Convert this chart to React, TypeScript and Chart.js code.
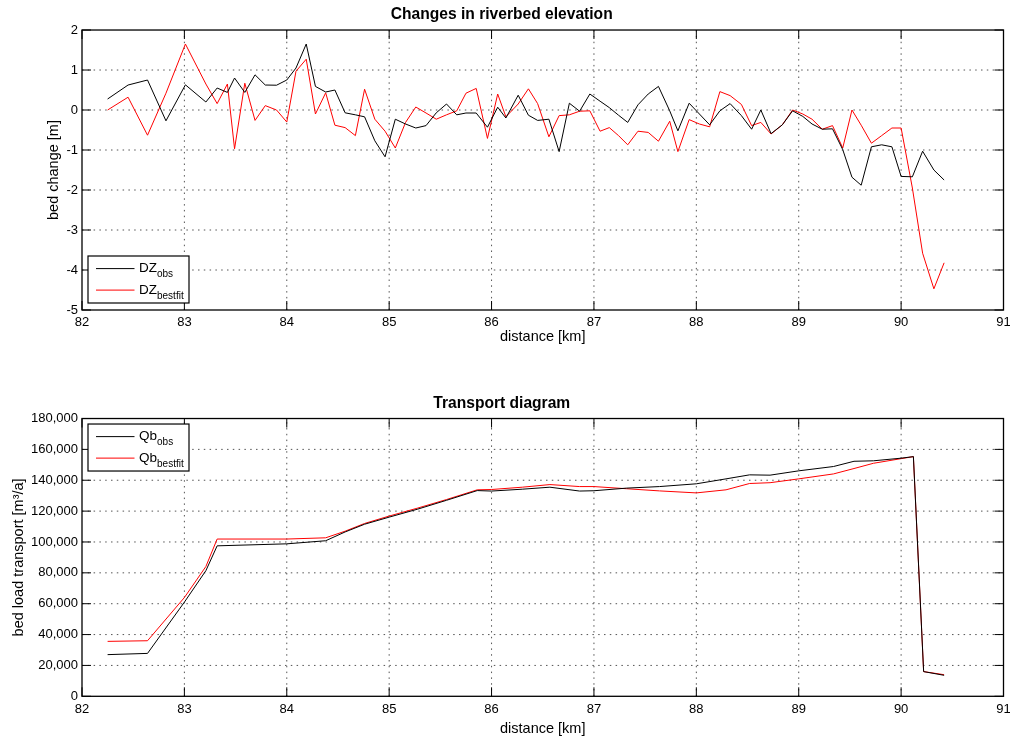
import React, { useEffect, useRef } from 'react';
import { Chart, registerables } from 'chart.js';

Chart.register(...registerables);

const FONT = '"Liberation Sans", Arial, Helvetica, sans-serif';

// ---------- Top plot: changes in riverbed elevation ----------
const distanceKm = [
  82.25, 82.45, 82.64, 82.82, 83.01, 83.21, 83.32, 83.42, 83.49, 83.59,
  83.69, 83.79, 83.9, 84.0, 84.09, 84.19, 84.28, 84.38, 84.47, 84.57,
  84.67, 84.76, 84.86, 84.96, 85.06, 85.16, 85.26, 85.36, 85.46, 85.56,
  85.66, 85.75, 85.85, 85.96, 86.06, 86.14, 86.26, 86.36, 86.45, 86.56,
  86.66, 86.76, 86.86, 86.96, 87.06, 87.15, 87.24, 87.33, 87.43, 87.53,
  87.63, 87.74, 87.82, 87.93, 88.03, 88.13, 88.23, 88.33, 88.44, 88.54,
  88.63, 88.73, 88.84, 88.94, 89.04, 89.13, 89.23, 89.33, 89.43, 89.52,
  89.61, 89.71, 89.81, 89.91, 90.0, 90.11, 90.21, 90.32, 90.42,
];

const dzObs = [
  0.275, 0.625, 0.75, -0.27, 0.63, 0.2, 0.55, 0.44, 0.8, 0.44,
  0.88, 0.625, 0.62, 0.75, 1.05, 1.65, 0.59, 0.45, 0.5, -0.07,
  -0.12, -0.17, -0.77, -1.17, -0.23, -0.35, -0.45, -0.39, -0.07, 0.15,
  -0.12, -0.075, -0.075, -0.43, 0.07, -0.2, 0.37, -0.13, -0.26, -0.23,
  -1.04, 0.17, -0.03, 0.4, 0.22, 0.06, -0.13, -0.31, 0.13, 0.4,
  0.59, -0.02, -0.52, 0.17, -0.1, -0.37, -0.02, 0.16, -0.14, -0.48,
  0.0, -0.59, -0.37, -0.02, -0.16, -0.35, -0.48, -0.47, -0.99, -1.68,
  -1.88, -0.92, -0.87, -0.92, -1.66, -1.67, -1.03, -1.5, -1.75,
];

const dzBestfit = [
  0.0, 0.32, -0.63, 0.42, 1.65, 0.65, 0.16, 0.65, -0.97, 0.67,
  -0.26, 0.11, 0.0, -0.3, 0.97, 1.27, -0.1, 0.43, -0.38, -0.44,
  -0.64, 0.52, -0.23, -0.53, -0.95, -0.31, 0.075, -0.075, -0.23, -0.12,
  -0.02, 0.42, 0.54, -0.71, 0.4, -0.17, 0.15, 0.53, 0.16, -0.67,
  -0.14, -0.12, -0.03, -0.02, -0.53, -0.44, -0.64, -0.87, -0.53, -0.56,
  -0.78, -0.28, -1.04, -0.24, -0.35, -0.42, 0.46, 0.36, 0.14, -0.39,
  -0.31, -0.6, -0.37, 0.0, -0.1, -0.23, -0.48, -0.39, -0.95, 0.0,
  -0.38, -0.83, -0.64, -0.45, -0.45, -1.95, -3.58, -4.47, -3.82,
];

// ---------- Bottom plot: transport diagram ----------
const distanceQb = [
  82.25, 82.64, 83.0, 83.21, 83.32, 84.0, 84.38, 84.57, 84.76, 85.0,
  85.28, 85.56, 85.86, 86.0, 86.3, 86.57, 86.86, 87.0, 87.32, 87.64,
  88.0, 88.29, 88.52, 88.72, 89.0, 89.34, 89.54, 89.73, 90.0, 90.12,
  90.22, 90.42,
];

const qbObs = [
  27000, 27800, 61000, 81400, 97500, 98800, 100800, 106500, 111500, 116100,
  121300, 127000, 133300, 133000, 134200, 135500, 133000, 133200, 134900, 135900,
  137700, 140900, 143500, 143300, 146100, 148900, 152300, 152600, 154300, 155300,
  16000, 13600,
];

const qbBestfit = [
  35600, 36000, 64000, 84100, 101900, 101900, 102700, 107000, 112000, 116800,
  122000, 127500, 133800, 134000, 135500, 137200, 135900, 135900, 134500, 133100,
  131800, 133800, 137900, 138400, 140900, 144100, 147600, 151000, 154000, 155300,
  16000, 14000,
];

const xTickRange = { min: 82, max: 91, step: 1 };
const dzTickRange = { min: -5, max: 2, step: 1 };
const qbTickRange = { min: 0, max: 180000, step: 20000 };

const toPoints = (xs: number[], ys: number[]) => xs.map((x, i) => ({ x, y: ys[i] }));

const matlabAxesPlugin = {
  id: 'matlabAxes',
  beforeDatasetsDraw(chart: any) {
    const { ctx, chartArea: a, scales } = chart;
    const xs = scales.x;
    const ys = scales.y;
    ctx.save();
    ctx.strokeStyle = '#555';
    ctx.lineWidth = 1;
    ctx.setLineDash([1.5, 4.3]);
    xs.ticks.forEach((t: any) => {
      const px = xs.getPixelForValue(t.value);
      if (px <= a.left + 1 || px >= a.right - 1) return;
      ctx.beginPath();
      ctx.moveTo(px, a.bottom);
      ctx.lineTo(px, a.top);
      ctx.stroke();
    });
    ys.ticks.forEach((t: any) => {
      const py = ys.getPixelForValue(t.value);
      if (py <= a.top + 1 || py >= a.bottom - 1) return;
      ctx.beginPath();
      ctx.moveTo(a.left, py);
      ctx.lineTo(a.right, py);
      ctx.stroke();
    });
    ctx.restore();
  },
  afterDatasetsDraw(chart: any) {
    const { ctx, chartArea: a, scales } = chart;
    const xs = scales.x;
    const ys = scales.y;
    const len = 9;
    ctx.save();
    ctx.setLineDash([]);
    ctx.strokeStyle = '#000';
    ctx.lineWidth = 1;
    xs.ticks.forEach((t: any) => {
      const px = xs.getPixelForValue(t.value);
      ctx.beginPath();
      ctx.moveTo(px, a.bottom);
      ctx.lineTo(px, a.bottom - len);
      ctx.moveTo(px, a.top);
      ctx.lineTo(px, a.top + len);
      ctx.stroke();
    });
    ys.ticks.forEach((t: any) => {
      const py = ys.getPixelForValue(t.value);
      ctx.beginPath();
      ctx.moveTo(a.left, py);
      ctx.lineTo(a.left + len, py);
      ctx.moveTo(a.right, py);
      ctx.lineTo(a.right - len, py);
      ctx.stroke();
    });
    ctx.lineWidth = 1.3;
    ctx.strokeRect(a.left, a.top, a.right - a.left, a.bottom - a.top);
    ctx.restore();
  },
  afterDraw(chart: any, _args: any, opts: any) {
    const L = opts && opts.legend;
    if (!L) return;
    const { ctx, chartArea: a } = chart;
    const bw = 101;
    const bh = 47;
    const bx = a.left + 6;
    const by = L.corner === 'bottom' ? a.bottom - 7 - bh : a.top + 5.5;
    ctx.save();
    ctx.setLineDash([]);
    ctx.fillStyle = '#fff';
    ctx.fillRect(bx, by, bw, bh);
    ctx.strokeStyle = '#000';
    ctx.lineWidth = 1.2;
    ctx.strokeRect(bx, by, bw, bh);
    L.items.forEach((it: any, i: number) => {
      const cy = by + 12.6 + i * 21.5;
      ctx.strokeStyle = it.color;
      ctx.lineWidth = 1;
      ctx.beginPath();
      ctx.moveTo(bx + 8, cy);
      ctx.lineTo(bx + 46.5, cy);
      ctx.stroke();
      ctx.fillStyle = '#000';
      ctx.textAlign = 'left';
      ctx.textBaseline = 'alphabetic';
      ctx.font = `13.5px ${FONT}`;
      const tx = bx + 51;
      const base = cy + 3.8;
      ctx.fillText(it.main, tx, base);
      const w = ctx.measureText(it.main).width;
      ctx.font = `10px ${FONT}`;
      ctx.fillText(it.sub, tx + w, base + 5);
    });
    ctx.restore();
  },
};

type PanelSpec = {
  title: string;
  titlePad: { top: number; bottom: number };
  yTitle: string;
  yTitlePad: number;
  xAxisHeight: number;
  xTitlePadBottom: number;
  yRange: { min: number; max: number; step: number };
  yFormat: (v: number) => string;
  datasets: any[];
  legend: any;
};

function buildConfig(spec: PanelSpec): any {
  return {
    type: 'line',
    data: { datasets: spec.datasets },
    plugins: [matlabAxesPlugin],
    options: {
      animation: false,
      responsive: false,
      maintainAspectRatio: false,
      events: [],
      layout: { padding: { left: 0, right: 6.5, top: 0, bottom: 0 } },
      elements: { point: { radius: 0 }, line: { tension: 0, borderWidth: 1 } },
      plugins: {
        legend: { display: false },
        tooltip: { enabled: false },
        title: {
          display: true,
          text: spec.title,
          color: '#000',
          font: { family: FONT, size: 15.6, weight: 'bold', lineHeight: 1.2 },
          padding: spec.titlePad,
        },
        matlabAxes: { legend: spec.legend },
      },
      scales: {
        x: {
          type: 'linear',
          min: xTickRange.min,
          max: xTickRange.max,
          grid: { display: false, drawTicks: false },
          border: { display: false },
          ticks: {
            stepSize: xTickRange.step,
            color: '#000',
            padding: 5,
            maxRotation: 0,
            font: { family: FONT, size: 13 },
          },
          title: {
            display: true,
            text: 'distance [km]',
            color: '#000',
            font: { family: FONT, size: 14.5, lineHeight: 1.2 },
            padding: { top: 0, bottom: spec.xTitlePadBottom },
          },
          afterFit: (s: any) => {
            s.height = spec.xAxisHeight;
            s.paddingLeft = 0;
            s.paddingRight = 0;
          },
        },
        y: {
          type: 'linear',
          min: spec.yRange.min,
          max: spec.yRange.max,
          grid: { display: false, drawTicks: false },
          border: { display: false },
          ticks: {
            stepSize: spec.yRange.step,
            color: '#000',
            padding: 4,
            font: { family: FONT, size: 13 },
            callback: (v: any) => spec.yFormat(Number(v)),
          },
          title: {
            display: true,
            text: spec.yTitle,
            color: '#000',
            font: { family: FONT, size: 14.5, lineHeight: 1.2 },
            padding: { top: spec.yTitlePad, bottom: 0 },
          },
          afterFit: (s: any) => {
            s.width = 82;
            s.paddingTop = 0;
            s.paddingBottom = 0;
          },
        },
      },
    },
  };
}

function Panel({ spec }: { spec: PanelSpec }) {
  const ref = useRef<HTMLCanvasElement | null>(null);
  useEffect(() => {
    if (!ref.current) return;
    const chart = new Chart(ref.current, buildConfig(spec));
    return () => chart.destroy();
  }, []);
  return <canvas ref={ref} width={1010} height={370} style={{ display: 'block', width: 1010, height: 370 }} />;
}

export default function App() {
  const top: PanelSpec = {
    title: 'Changes in riverbed elevation',
    titlePad: { top: 5.6, bottom: 5.7 },
    yTitle: 'bed change [m]',
    yTitlePad: 45.3,
    xAxisHeight: 60,
    xTitlePadBottom: 24.3,
    yRange: dzTickRange,
    yFormat: (v) => String(v),
    datasets: [
      { label: 'DZobs', data: toPoints(distanceKm, dzObs), borderColor: '#000000', borderWidth: 1, pointRadius: 0, fill: false },
      { label: 'DZbestfit', data: toPoints(distanceKm, dzBestfit), borderColor: '#ff0000', borderWidth: 1, pointRadius: 0, fill: false },
    ],
    legend: {
      corner: 'bottom',
      items: [
        { main: 'DZ', sub: 'obs', color: '#000000' },
        { main: 'DZ', sub: 'bestfit', color: '#ff0000' },
      ],
    },
  };
  const bottom: PanelSpec = {
    title: 'Transport diagram',
    titlePad: { top: 24.6, bottom: 5.2 },
    yTitle: 'bed load transport [m³/a]',
    yTitlePad: 10,
    xAxisHeight: 43.7,
    xTitlePadBottom: 2.3,
    yRange: qbTickRange,
    yFormat: (v) => v.toLocaleString('en-US'),
    datasets: [
      { label: 'Qbobs', data: toPoints(distanceQb, qbObs), borderColor: '#000000', borderWidth: 1, pointRadius: 0, fill: false },
      { label: 'Qbbestfit', data: toPoints(distanceQb, qbBestfit), borderColor: '#ff0000', borderWidth: 1, pointRadius: 0, fill: false },
    ],
    legend: {
      corner: 'top',
      items: [
        { main: 'Qb', sub: 'obs', color: '#000000' },
        { main: 'Qb', sub: 'bestfit', color: '#ff0000' },
      ],
    },
  };
  return (
    <div style={{ position: 'absolute', left: 0, top: 0, width: 1010, height: 740, background: '#fff' }}>
      <Panel spec={top} />
      <Panel spec={bottom} />
    </div>
  );
}
